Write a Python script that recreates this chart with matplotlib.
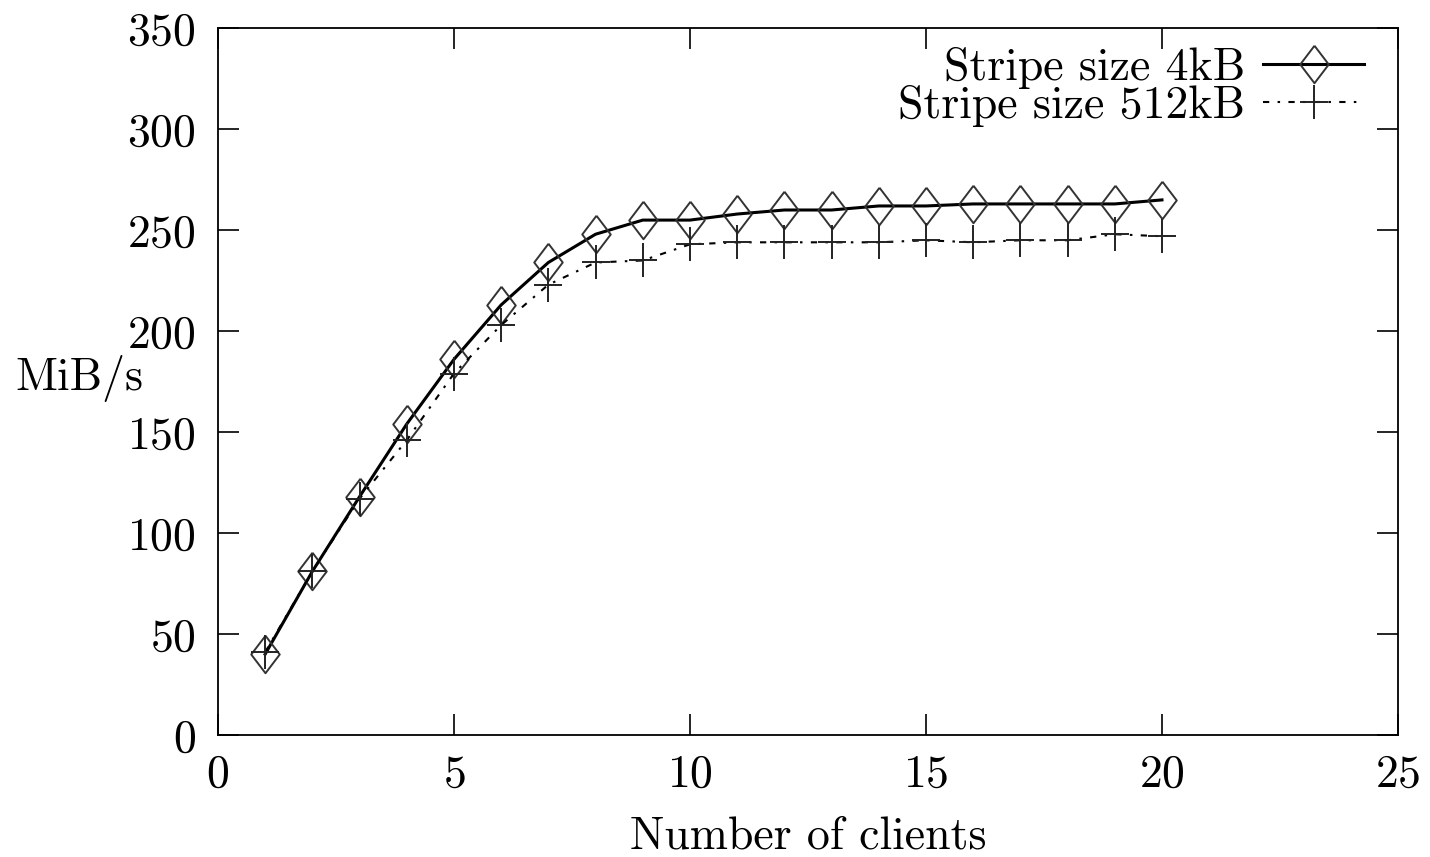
import numpy as np
import matplotlib.pyplot as plt
from matplotlib.path import Path

plt.rcParams['font.family'] = ['cmr10', 'DejaVu Serif']
plt.rcParams['axes.formatter.use_mathtext'] = True

clients = np.arange(1, 21)
# MiB/s
stripe_4k = [40, 81, 118, 154, 186, 213, 234, 248, 255, 255,
             258, 260, 260, 262, 262, 263, 263, 263, 263, 265]
stripe_512k = [41, 81, 117, 146, 179, 203, 223, 234, 235, 243,
               244, 244, 244, 244, 245, 244, 245, 245, 248, 247]

# gnuplot-like markers, a bit taller than wide
diamond = Path([(0, 1), (0.76, 0), (0, -1), (-0.76, 0), (0, 1)])
plus = Path([(0, -1), (0, 1), (-0.8, 0), (0.8, 0)],
            [Path.MOVETO, Path.LINETO, Path.MOVETO, Path.LINETO])

fig = plt.figure(figsize=(14.3, 8.57), dpi=100)
ax = fig.add_axes([0.1524, 0.1424, 0.8252, 0.8246])

ax.plot(clients, stripe_4k, color='black', lw=2.2, marker=diamond, ms=27,
        mfc='none', mec='#333333', mew=1.4, label='Stripe size 4kB')
ax.plot(clients, stripe_512k, color='black', lw=1.5, ls=(0, (3, 4, 1.2, 4)),
        marker=plus, ms=25, mfc='none', mec='#222222', mew=1.4,
        label='Stripe size 512kB')

ax.set_xlim(0, 25)
ax.set_ylim(0, 350)
ax.set_xticks(np.arange(0, 26, 5))
ax.set_yticks(np.arange(0, 351, 50))
ax.tick_params(direction='in', length=15, width=1.2, top=True, right=True,
               labelsize=33)
ax.tick_params(axis='y', pad=16)
ax.tick_params(axis='x', pad=14)
for s in ax.spines.values():
    s.set_linewidth(1.3)

ax.set_xlabel('Number of clients', fontsize=33, labelpad=14)
ax.set_ylabel('MiB/s', fontsize=33, rotation=0, ha='left', va='center')
ax.yaxis.set_label_coords(-0.172, 0.504)

ax.legend(loc='upper right', frameon=False, markerfirst=False, numpoints=1,
          fontsize=33, handlelength=2.2, labelspacing=-0.08, handletextpad=0.4,
          borderaxespad=0.0, bbox_to_anchor=(0.987, 1.0))

fig.savefig('out.png', dpi=100)
